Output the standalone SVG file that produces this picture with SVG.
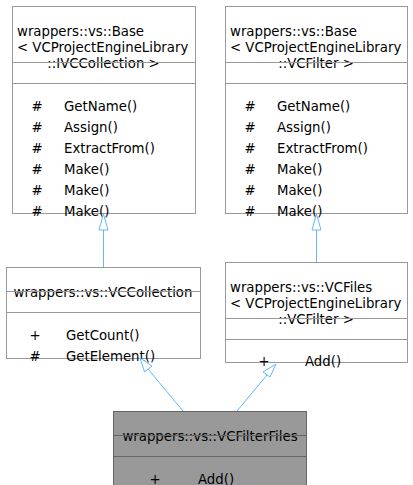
<svg xmlns="http://www.w3.org/2000/svg" width="413" height="485" viewBox="0 0 413 485">
<style>
text{font-family:"DejaVu Sans","Liberation Sans",sans-serif;font-size:13.3px;fill:#000}
.box{fill:#fff;stroke:#999;stroke-width:1}
.cur{fill:#999;stroke:#666;stroke-width:1}
.div{stroke:#999;stroke-width:1}
.cdiv{stroke:#666;stroke-width:1}
.m{text-anchor:middle}
.edge{stroke:#63b8ff;stroke-width:1;fill:none}
.head{fill:#fff;stroke:#63b8ff;stroke-width:1}
</style>
<rect width="413" height="485" fill="#fff"/>
<g id="node1">
<rect class="box" x="12.5" y="6.5" width="183" height="207"/>
<text x="17" y="36">wrappers::vs::Base</text>
<text x="17" y="52">&lt; VCProjectEngineLibrary</text>
<text class="m" x="103.5" y="68">::IVCCollection &gt;</text>
<line class="div" x1="12.5" y1="62.5" x2="195.5" y2="62.5"/>
<line class="div" x1="12.5" y1="83.5" x2="195.5" y2="83.5"/>
<text class="m" x="37" y="111">#</text><text x="64" y="111">GetName()</text>
<text class="m" x="37" y="132">#</text><text x="64" y="132">Assign()</text>
<text class="m" x="37" y="153">#</text><text x="64" y="153">ExtractFrom()</text>
<text class="m" x="37" y="174">#</text><text x="64" y="174">Make()</text>
<text class="m" x="37" y="195">#</text><text x="64" y="195">Make()</text>
<text class="m" x="37" y="216">#</text><text x="64" y="216">Make()</text>
</g>
<g id="node2">
<rect class="box" x="225.5" y="6.5" width="182" height="207"/>
<text x="230" y="36">wrappers::vs::Base</text>
<text x="230" y="52">&lt; VCProjectEngineLibrary</text>
<text class="m" x="316" y="68">::VCFilter &gt;</text>
<line class="div" x1="225.5" y1="62.5" x2="407.5" y2="62.5"/>
<line class="div" x1="225.5" y1="83.5" x2="407.5" y2="83.5"/>
<text class="m" x="250" y="111">#</text><text x="277" y="111">GetName()</text>
<text class="m" x="250" y="132">#</text><text x="277" y="132">Assign()</text>
<text class="m" x="250" y="153">#</text><text x="277" y="153">ExtractFrom()</text>
<text class="m" x="250" y="174">#</text><text x="277" y="174">Make()</text>
<text class="m" x="250" y="195">#</text><text x="277" y="195">Make()</text>
<text class="m" x="250" y="216">#</text><text x="277" y="216">Make()</text>
</g>
<g id="node3">
<rect class="box" x="6.5" y="267.5" width="194" height="91"/>
<text class="m" x="103" y="297">wrappers::vs::VCCollection</text>
<line class="div" x1="6.5" y1="291.5" x2="200.5" y2="291.5"/>
<line class="div" x1="6.5" y1="312.5" x2="200.5" y2="312.5"/>
<text class="m" x="35" y="340">+</text><text x="66" y="340">GetCount()</text>
<text class="m" x="35" y="361">#</text><text x="66" y="361">GetElement()</text>
</g>
<g id="node4">
<rect class="box" x="225.5" y="262.5" width="182" height="100"/>
<text x="230" y="292">wrappers::vs::VCFiles</text>
<text x="230" y="308">&lt; VCProjectEngineLibrary</text>
<text class="m" x="316" y="324">::VCFilter &gt;</text>
<line class="div" x1="225.5" y1="318.5" x2="407.5" y2="318.5"/>
<line class="div" x1="225.5" y1="339.5" x2="407.5" y2="339.5"/>
<text class="m" x="264" y="366">+</text><text x="305" y="366">Add()</text>
</g>
<g id="node5">
<rect class="cur" x="113.5" y="411.5" width="193" height="80"/>
<text class="m" x="210" y="441">wrappers::vs::VCFilterFiles</text>
<line class="cdiv" x1="113.5" y1="435.5" x2="306.5" y2="435.5"/>
<line class="cdiv" x1="113.5" y1="456.5" x2="306.5" y2="456.5"/>
<text class="m" x="155" y="484">+</text><text x="198" y="484">Add()</text>
</g>
<g id="edges">
<line class="edge" x1="103.5" y1="267" x2="103.5" y2="230"/>
<polygon class="head" points="103.5,214 99,230 108,230"/>
<line class="edge" x1="316.5" y1="262" x2="316.5" y2="230"/>
<polygon class="head" points="316.5,214 312,230 321,230"/>
<line class="edge" x1="183" y1="411" x2="148" y2="369"/>
<polygon class="head" points="140,358 144.5,372 152,366"/>
<line class="edge" x1="237" y1="411" x2="267" y2="375"/>
<polygon class="head" points="276,364 263,372 270,377"/>
</g>
</svg>
